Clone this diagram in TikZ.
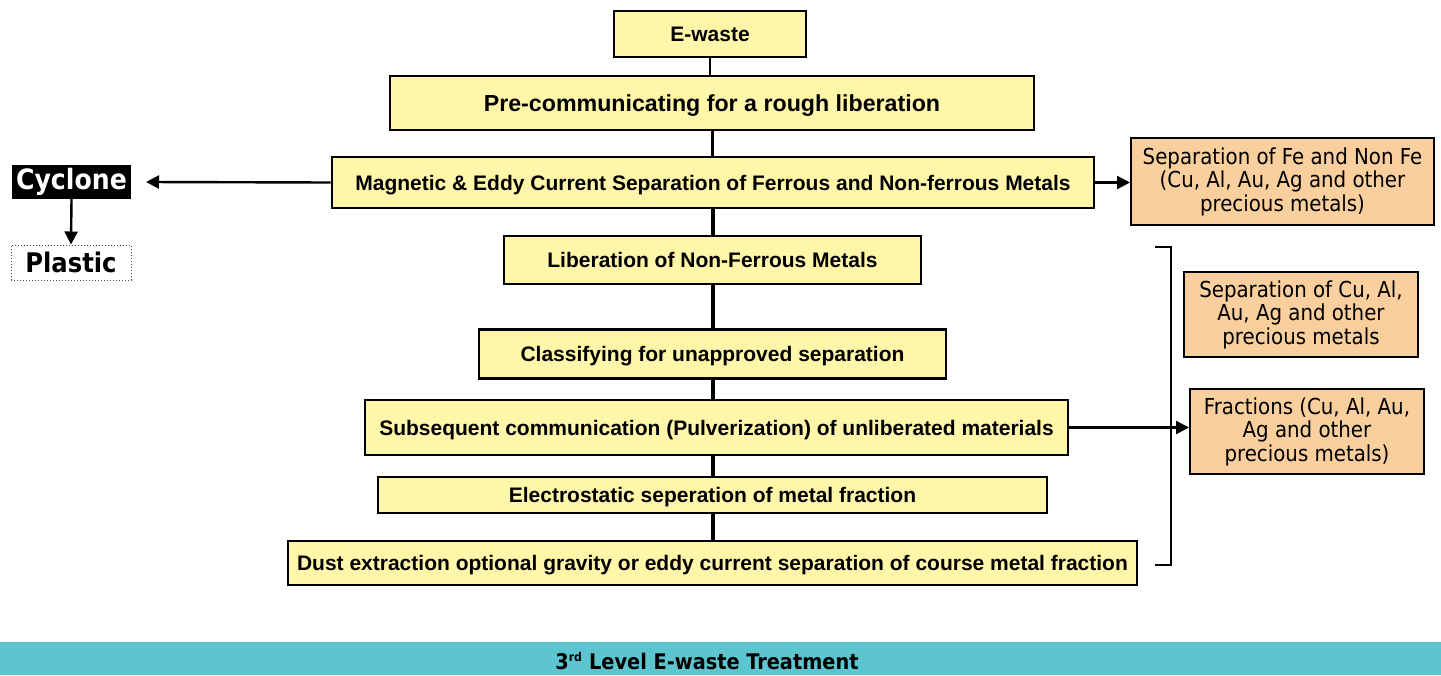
\documentclass[tikz,border=0pt]{standalone}
\usepackage{fontspec}
\setmainfont{Liberation Sans}
\newfontfamily\tahoma{DejaVu Sans Condensed}
\usetikzlibrary{arrows.meta}
\definecolor{ybox}{RGB}{255,246,170}
\definecolor{obox}{RGB}{250,207,158}
\definecolor{tealbar}{RGB}{92,197,208}
\begin{document}
\begin{tikzpicture}[x=1pt,y=-1pt,
  mainbox/.style={draw=black, line width=2.6pt, fill=ybox, inner sep=0pt, text depth=0pt, font=\bfseries\fontsize{21}{23}\selectfont},
  sidebox/.style={draw=black, line width=2pt, fill=obox, inner sep=0pt, align=center, font=\tahoma\fontsize{22}{23.5}\selectfont},
  conn/.style={line width=4pt},
  arr/.style={line width=2.4pt, -{Triangle[length=13pt,width=13pt]}}]
\useasboundingbox (0,0) rectangle (1441,675);
\node[mainbox, minimum width=192pt, minimum height=46pt] (ew) at (710,34) {E-waste};
\node[mainbox, minimum width=644pt, minimum height=54pt, font=\bfseries\fontsize{23.2}{25}\selectfont] (pre) at (712,103) {Pre-communicating for a rough liberation};
\node[mainbox, minimum width=762pt, minimum height=51pt] (mag) at (713,182.5) {Magnetic \& Eddy Current Separation of Ferrous and Non-ferrous Metals};
\node[mainbox, minimum width=417pt, minimum height=48pt] (lib) at (712.5,260) {Liberation of Non-Ferrous Metals};
\node[mainbox, minimum width=467pt, minimum height=49pt] (cla) at (712.5,354) {Classifying for unapproved separation};
\node[mainbox, minimum width=703pt, minimum height=55pt] (sub) at (716.5,427.5) {Subsequent communication (Pulverization) of unliberated materials};
\node[mainbox, minimum width=669pt, minimum height=36pt] (ele) at (712.5,495) {Electrostatic seperation of metal fraction};
\node[mainbox, minimum width=849pt, minimum height=44pt] (dus) at (712.5,563) {Dust extraction optional gravity or eddy current separation of course metal fraction};

\node[sidebox, minimum width=303pt, minimum height=87pt] (sfe) at (1282.5,181.5) {Separation of Fe and Non Fe\\(Cu, Al, Au, Ag and other\\precious metals)};
\node[sidebox, minimum width=234pt, minimum height=85pt] (scu) at (1301,314.5) {Separation of Cu, Al,\\Au, Ag and other\\precious metals};
\node[sidebox, minimum width=234pt, minimum height=85pt] (fra) at (1307,431.5) {Fractions (Cu, Al, Au,\\Ag and other\\precious metals)};

\node[fill=black, text=white, inner sep=0pt, minimum width=119pt, minimum height=34pt, font=\tahoma\bfseries\fontsize{28}{30}\selectfont] (cyc) at (71.5,182) {Cyclone};
\node[draw=black!70, dotted, line width=1pt, inner sep=0pt, minimum width=120pt, minimum height=35pt, font=\tahoma\bfseries\fontsize{27}{29}\selectfont] (pla) at (71,262.5) {Plastic};

\node[fill=tealbar, inner sep=0pt, minimum width=1441pt, minimum height=33pt] (bar) at (720.5,658.5) {};
\node[inner sep=0pt, font=\tahoma\bfseries\fontsize{21.5}{23}\selectfont] (bartext) at (707,661) {3\textsuperscript{\fontsize{12}{12}\selectfont rd} Level E-waste Treatment};

\draw[line width=2pt] (ew.south) -- (ew.south |- pre.north);
\draw[line width=3pt] (pre.south) -- (pre.south |- mag.north);
\draw[conn] (mag.south) -- (mag.south |- lib.north);
\draw[conn] (lib.south) -- (lib.south |- cla.north);
\draw[conn] (cla.south) -- (cla.south |- sub.north);
\draw[conn] (sub.south -| ele.north) -- (ele.north);
\draw[conn] (ele.south) -- (ele.south |- dus.north);

\draw[arr] (mag.west) -- (cyc.east -| 146,0);
\draw[arr] (mag.east) -- (sfe.west |- mag.east);
\draw[arr] (cyc.south) -- (pla.north);
\draw[arr] (sub.east) -- (fra.west |- sub.east);

\coordinate (b1) at (1155,247);
\coordinate (b2) at (1171,247);
\coordinate (b3) at (1171,565);
\coordinate (b4) at (1155,565);
\draw[line width=2pt] (b1) -- (b2) -- (b3) -- (b4);
\end{tikzpicture}
\end{document}
